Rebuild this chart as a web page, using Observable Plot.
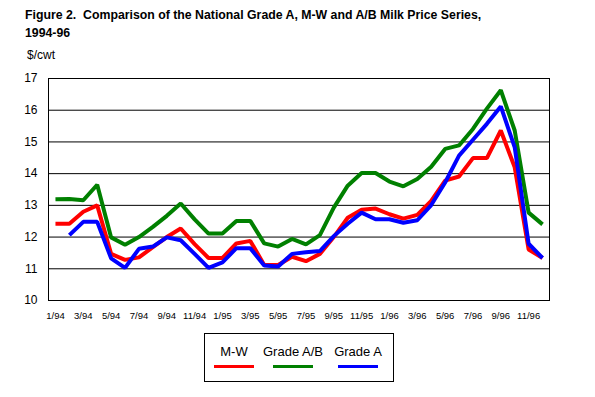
<!DOCTYPE html>
<html>
<head>
<meta charset="utf-8">
<script src="https://cdn.jsdelivr.net/npm/d3@7"></script>
<script src="https://cdn.jsdelivr.net/npm/@observablehq/plot@0.6"></script>
<style>
  body { margin: 0; background: #fff; font-family: "Liberation Sans", Arial, sans-serif; }
  #wrap { position: relative; width: 595px; height: 397px; overflow: hidden; }
  #title { position: absolute; left: 25px; top: 6px; font-weight: bold; font-size: 12.3px; line-height: 18px; color: #000; }
  #unit { position: absolute; left: 27px; top: 48px; font-size: 12px; color: #000; }
  #chart { position: absolute; left: 0; top: 0; }
  #legend { position: absolute; left: 204px; top: 333px; width: 188px; height: 47px; border: 1px solid #000; background: #fff; }
  .lg { position: absolute; top: 10px; font-size: 13px; transform: translateX(-50%); white-space: nowrap; }
  .sw { position: absolute; top: 31px; height: 3px; width: 40px; }
</style>
</head>
<body>
<div id="wrap">
  <div id="chart"></div>
  <div id="title">Figure 2.&nbsp; Comparison of the National Grade A, M-W and A/B Milk Price Series,<br>1994-96</div>
  <div id="unit">$/cwt</div>
  <div id="legend"></div>
</div>
<script>
const months = [
  "1/94","2/94","3/94","4/94","5/94","6/94","7/94","8/94","9/94","10/94","11/94","12/94",
  "1/95","2/95","3/95","4/95","5/95","6/95","7/95","8/95","9/95","10/95","11/95","12/95",
  "1/96","2/96","3/96","4/96","5/96","6/96","7/96","8/96","9/96","10/96","11/96","12/96"
];
const tickLabels = ["1/94","3/94","5/94","7/94","9/94","11/94","1/95","3/95","5/95","7/95","9/95","11/95","1/96","3/96","5/96","7/96","9/96","11/96"];
const seriesNames = ["M-W", "Grade A/B", "Grade A"];
const seriesColors = ["#ff0000", "#008000", "#0000ff"];
const mw = [12.42,12.42,12.80,13.00,11.47,11.28,11.36,11.68,12.00,12.27,11.78,11.34,
            11.34,11.80,11.88,11.12,11.12,11.38,11.24,11.47,12.00,12.61,12.86,12.90,
            12.72,12.58,12.70,13.14,13.78,13.91,14.49,14.49,15.36,14.20,11.61,11.34];
const gradeAB = [13.19,13.20,13.16,13.65,11.99,11.76,12.00,12.32,12.67,13.06,12.56,12.11,
                 12.11,12.51,12.51,11.80,11.70,11.94,11.77,12.06,12.93,13.62,14.02,14.02,
                 13.75,13.60,13.83,14.22,14.78,14.89,15.41,16.05,16.63,15.36,12.77,12.40];
const gradeA = [null,12.06,12.48,12.48,11.33,11.03,11.63,11.70,11.99,11.90,11.47,11.03,
                11.20,11.65,11.65,11.10,11.07,11.47,11.52,11.56,12.03,12.42,12.77,12.56,
                12.56,12.45,12.53,13.01,13.72,14.57,15.07,15.57,16.12,14.83,11.79,11.34];
const yTicks = [10,11,12,13,14,15,16,17];

const seriesValues = [mw, gradeAB, gradeA];
const rows = [];
seriesNames.forEach((name, s) => {
  months.forEach((m, i) => rows.push({series: name, month: m, value: seriesValues[s][i]}));
});

const chart = Plot.plot({
  width: 595,
  height: 397,
  marginTop: 78,
  marginBottom: 97,
  marginLeft: 48,
  marginRight: 46,
  style: {fontFamily: '"Liberation Sans", Arial, sans-serif', fontSize: "12px", background: "transparent", color: "#000"},
  x: {type: "point", domain: months, padding: 0.5, label: null},
  y: {domain: [10, 17], ticks: yTicks, label: null},
  color: {domain: seriesNames, range: seriesColors},
  marks: [
    Plot.gridY(yTicks, {stroke: "#000", strokeOpacity: 1, strokeWidth: 1}),
    Plot.frame({stroke: "#000", strokeWidth: 1}),
    Plot.axisY(yTicks, {tickSize: 0, tickPadding: 11, fontSize: 12, label: null, tickFormat: d => String(d)}),
    Plot.axisX(tickLabels, {tickSize: 0, tickPadding: 12, fontSize: 9.5, label: null}),
    Plot.line(rows, {x: "month", y: "value", z: "series", stroke: "series", strokeWidth: 4, strokeLinejoin: "miter", strokeLinecap: "butt"})
  ]
});
document.getElementById("chart").appendChild(chart);

const legend = document.getElementById("legend");
const centers = [29, 88, 153];
seriesNames.forEach((name, i) => {
  const t = document.createElement("div");
  t.className = "lg";
  t.style.left = centers[i] + "px";
  t.textContent = name;
  legend.appendChild(t);
  const sw = document.createElement("div");
  sw.className = "sw";
  sw.style.left = (centers[i] - 20) + "px";
  sw.style.background = seriesColors[i];
  legend.appendChild(sw);
});
</script>
</body>
</html>
